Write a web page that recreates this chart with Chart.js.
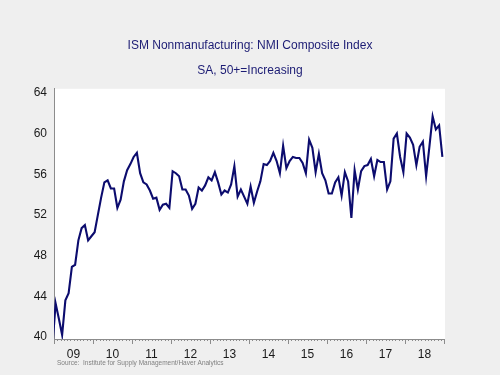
<!DOCTYPE html>
<html>
<head>
<meta charset="utf-8">
<script src="https://cdn.jsdelivr.net/npm/chart.js@4.4.0/dist/chart.umd.min.js"></script>
<style>
  html, body { margin: 0; padding: 0; background: #efefef; }
</style>
</head>
<body>
<canvas id="nmiChart" width="500" height="375"></canvas>
<script>
// ISM NMI composite, monthly, Dec 2008 .. Dec 2018
const nmiDec2008 = [39.0];
const nmi2009 = [43.3, 41.8, 40.2, 43.6, 44.3, 46.9, 47.1, 49.5, 50.7, 51.0, 49.5, 49.9];
const nmi2010 = [50.3, 52.0, 53.7, 55.2, 55.4, 54.6, 54.6, 52.7, 53.5, 55.3, 56.4, 57.0];
const nmi2011 = [57.7, 58.1, 56.1, 55.2, 55.0, 54.4, 53.6, 53.7, 52.5, 53.0, 53.1, 52.7];
const nmi2012 = [56.3, 56.1, 55.8, 54.5, 54.5, 53.9, 52.6, 53.1, 54.7, 54.4, 54.9, 55.7];
const nmi2013 = [55.4, 56.2, 55.2, 54.0, 54.4, 54.2, 55.0, 56.8, 53.8, 54.5, 53.8, 53.1];
const nmi2014 = [54.8, 53.2, 54.3, 55.3, 57.0, 56.9, 57.3, 58.1, 57.3, 56.1, 58.8, 56.6];
const nmi2015 = [57.3, 57.7, 57.6, 57.6, 57.1, 56.1, 59.4, 58.6, 56.2, 58.0, 56.1, 55.4];
const nmi2016 = [54.1, 54.1, 55.2, 55.7, 53.9, 56.2, 55.3, 51.7, 56.4, 54.5, 56.3, 56.8];
const nmi2017 = [56.9, 57.5, 55.8, 57.4, 57.2, 57.2, 54.5, 55.3, 59.5, 60.0, 57.7, 56.2];
const nmi2018 = [60.0, 59.6, 58.9, 56.9, 58.7, 59.2, 55.8, 58.7, 61.7, 60.4, 60.8, 57.7];

const yearLabels = ["09", "10", "11", "12", "13", "14", "15", "16", "17", "18"];
const yTicks = [40, 44, 48, 52, 56, 60, 64];
const sourceText = "Source:  Institute for Supply Management/Haver Analytics";

const allValues = [].concat(nmiDec2008, nmi2009, nmi2010, nmi2011, nmi2012,
  nmi2013, nmi2014, nmi2015, nmi2016, nmi2017, nmi2018);

// x = months since Jan 2009, plotted mid-month
const points = allValues.map((v, i) => ({ x: i - 1 + 0.5, y: v }));
const totalMonths = yearLabels.length * 12;

// ================= PLUGIN: backdrop, month ticks, source =================
const backdrop = {
  id: "backdrop",
  beforeDraw(chart) {
    const { ctx, chartArea: a } = chart;
    ctx.save();
    ctx.fillStyle = "#efefef";
    ctx.fillRect(0, 0, chart.width, chart.height);
    ctx.fillStyle = "#ffffff";
    ctx.fillRect(a.left, a.top, a.right - a.left + 1, a.bottom - a.top);
    ctx.restore();
  },
  afterDraw(chart) {
    const { ctx, chartArea: a } = chart;
    const x = chart.scales.x;
    ctx.save();
    ctx.strokeStyle = "#8c8c8c";
    ctx.lineWidth = 1;
    ctx.beginPath();
    for (let m = 0; m <= totalMonths; m++) {
      const px = Math.round(x.getPixelForValue(m)) + 0.5;
      const len = m % 12 === 0 ? 5 : 2;
      ctx.moveTo(px, a.bottom);
      ctx.lineTo(px, a.bottom + len);
    }
    ctx.stroke();

    ctx.fillStyle = "#808080";
    ctx.font = '6.5px "Liberation Sans", Arial, sans-serif';
    ctx.textBaseline = "middle";
    ctx.fillText(sourceText, 57, 363);
    ctx.restore();
  }
};

const textFont = { family: '"Liberation Sans", Arial, sans-serif', size: 12 };

new Chart(document.getElementById("nmiChart"), {
  type: "line",
  data: {
    datasets: [{
      label: "NMI Composite",
      data: points,
      borderColor: "#0c0c6e",
      borderWidth: 2.1,
      pointRadius: 0,
      tension: 0
    }]
  },
  options: {
    responsive: false,
    animation: false,
    layout: { padding: 0 },
    plugins: {
      legend: { display: false },
      tooltip: { enabled: false },
      title: {
        display: true,
        text: "ISM Nonmanufacturing: NMI Composite Index",
        color: "#1c1c74",
        font: { ...textFont, weight: "normal" },
        padding: { top: 38, bottom: 0 }
      },
      subtitle: {
        display: true,
        text: "SA, 50+=Increasing",
        color: "#1c1c74",
        font: { ...textFont, weight: "normal" },
        padding: { top: 11, bottom: 11 }
      }
    },
    scales: {
      x: {
        type: "linear",
        min: 0,
        max: totalMonths,
        grid: { display: false, drawTicks: false },
        border: { display: true, color: "#8c8c8c", width: 1 },
        afterBuildTicks(scale) {
          scale.ticks = yearLabels.map((_, k) => ({ value: k * 12 + 6 }));
        },
        afterFit(scale) { scale.height = 36; },
        ticks: {
          autoSkip: false,
          maxRotation: 0,
          padding: 8,
          color: "#1a1a1a",
          font: textFont,
          callback: (v) => yearLabels[(v - 6) / 12]
        }
      },
      y: {
        min: 39.8,
        max: 64.4,
        grid: { display: false, drawTicks: false },
        border: { display: true, color: "#8c8c8c", width: 1 },
        afterBuildTicks(scale) {
          scale.ticks = yTicks.map(v => ({ value: v }));
        },
        afterFit(scale) { scale.width = 54; },
        ticks: {
          padding: 7,
          color: "#1a1a1a",
          font: textFont
        }
      },
      // empty right margin so the titles stay centred on the page
      yRight: {
        position: "right",
        min: 39.8,
        max: 64.4,
        grid: { display: false, drawTicks: false },
        border: { display: false },
        ticks: { display: false },
        afterFit(scale) { scale.width = 56; }
      }
    }
  },
  plugins: [backdrop]
});
</script>
</body>
</html>
